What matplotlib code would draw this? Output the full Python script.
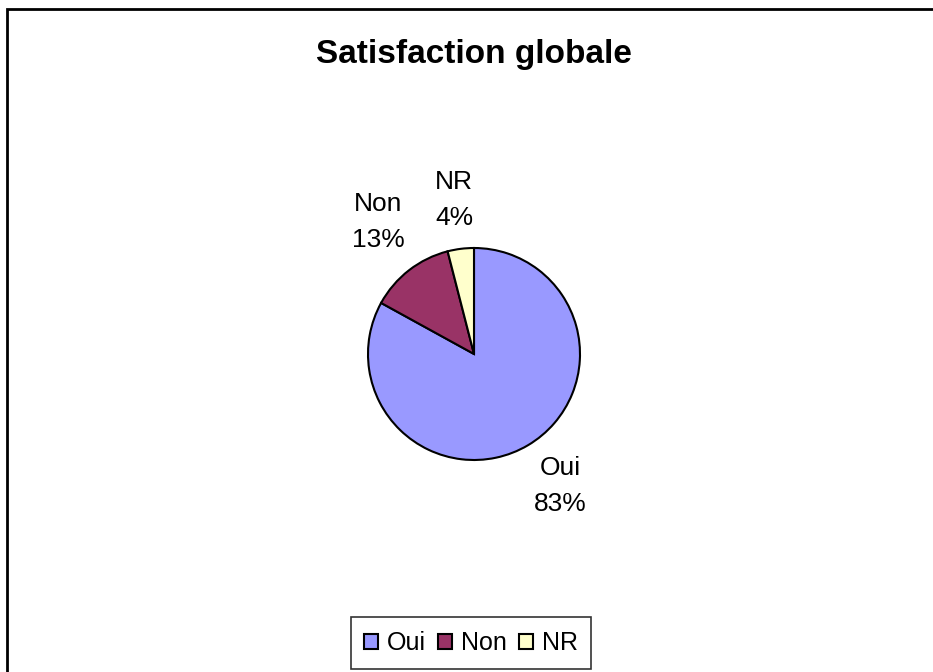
import matplotlib.pyplot as plt
from matplotlib.patches import Rectangle

# data
labels = ['Oui', 'Non', 'NR']
shares = [83, 13, 4]
colors = ['#9999FF', '#993366', '#FFFFCC']

W, H = 933, 672
plt.rcParams['font.family'] = ['Liberation Sans', 'DejaVu Sans']

fig = plt.figure(figsize=(W / 100, H / 100), dpi=100)
ax = fig.add_axes([0, 0, 1, 1])
ax.set_xlim(0, W)
ax.set_ylim(0, H)
ax.set_aspect('equal')
ax.axis('off')

# outer chart border (only top and left visible)
ax.add_patch(Rectangle((7, -10), W + 20, H - 9 + 10, fill=False,
                       edgecolor='black', linewidth=2))

wedges, _ = ax.pie(shares, colors=colors, startangle=90, counterclock=False,
                   center=(474, H - 354), radius=106,
                   wedgeprops=dict(edgecolor='black', linewidth=1.5))
ax.set_xlim(0, W)
ax.set_ylim(0, H)

# data labels
label_pos = [(560, 486), (378, 222), (454, 200)]
for lab, val, (x, y) in zip(labels, shares, label_pos):
    ax.text(x, H - y, f'{lab}\n{val}%', ha='center', va='center',
            fontsize=19, linespacing=1.62)

ax.text(474, H - 55, 'Satisfaction globale', ha='center', va='center',
        fontsize=24, fontweight='bold')

leg = ax.legend(wedges, labels, loc='center', ncol=3,
                bbox_to_anchor=(471 / W, 1 - 643 / H), fontsize=18,
                frameon=True, fancybox=False, edgecolor='black',
                handlelength=0.55, handleheight=0.55, handletextpad=0.35,
                columnspacing=0.5, borderpad=0.55, borderaxespad=0)
leg.get_frame().set_linewidth(1.2)

fig.savefig('out.png', dpi=100)
